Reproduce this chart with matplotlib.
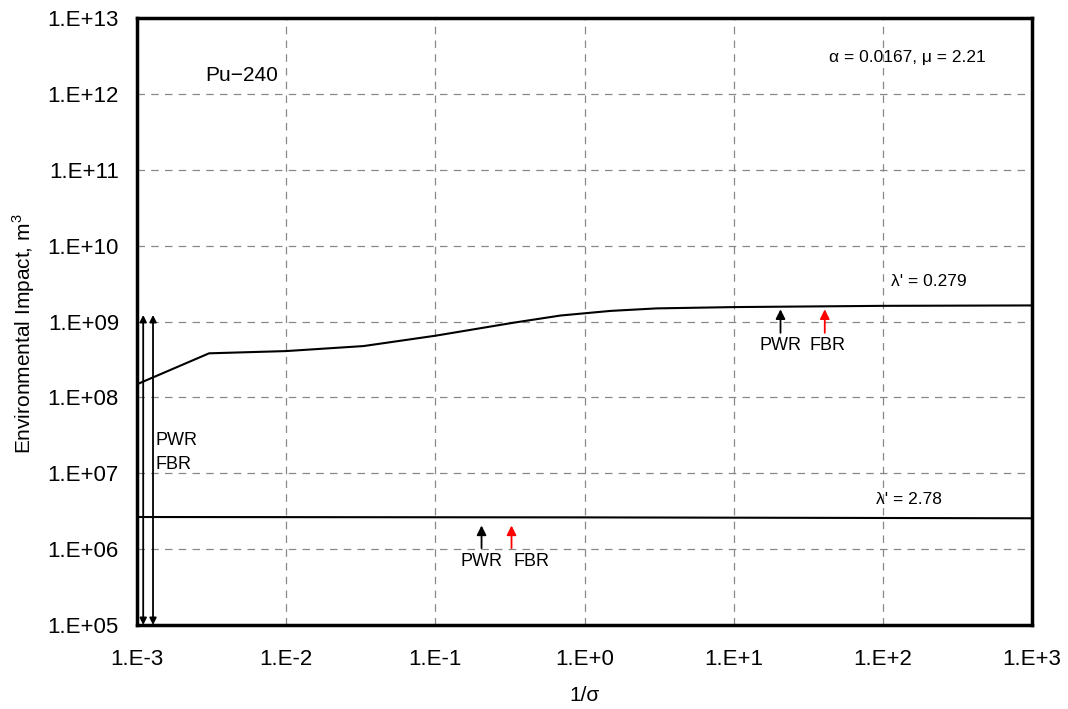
import numpy as np
import matplotlib.pyplot as plt
from matplotlib.ticker import FixedLocator, FixedFormatter, NullLocator

plt.rcParams['font.family'] = ['Liberation Sans', 'DejaVu Sans']
plt.rcParams['mathtext.fontset'] = 'custom'
plt.rcParams['mathtext.rm'] = 'Liberation Sans'

# curve for lambda' = 0.279
x_hi = [1e-3, 3.04e-3, 1e-2, 3.3e-2, 1e-1, 0.333, 0.69, 1.49, 3.04, 1e1, 1e2, 1e3]
y_hi = [1.49e8, 3.81e8, 4.08e8, 4.75e8, 6.5e8, 9.64e8, 1.2e9, 1.38e9, 1.49e9, 1.55e9, 1.61e9, 1.63e9]

# curve for lambda' = 2.78
x_lo = [1e-3, 1e0, 1e3]
y_lo = [2.65e6, 2.62e6, 2.55e6]

# marker arrows (x, y tail, y head)
arr_hi_pwr = (20.6, 7.1e8, 1.45e9)
arr_hi_fbr = (40.8, 7.1e8, 1.45e9)
arr_lo_pwr = (0.204, 1.03e6, 2.05e6)
arr_lo_fbr = (0.324, 1.03e6, 2.05e6)
left_arrows_x = [1.1e-3, 1.28e-3]
left_arrows_y = (1e5, 1.22e9)

xticks = [1e-3, 1e-2, 1e-1, 1e0, 1e1, 1e2, 1e3]
xlabels = ['1.E-3', '1.E-2', '1.E-1', '1.E+0', '1.E+1', '1.E+2', '1.E+3']
yticks = [10.0 ** k for k in range(5, 14)]
ylabels = ['1.E+%02d' % k for k in range(5, 14)]

fig = plt.figure(figsize=(10.68, 7.09), dpi=100)
ax = fig.add_axes([0.1283, 0.1185, 0.838, 0.856])

ax.plot(x_hi, y_hi, color='black', lw=1.5)
ax.plot(x_lo, y_lo, color='black', lw=1.5)

ax.set_xscale('log')
ax.set_yscale('log')
ax.set_xlim(1e-3, 1e3)
ax.set_ylim(1e5, 1e13)

ax.xaxis.set_major_locator(FixedLocator(xticks))
ax.xaxis.set_major_formatter(FixedFormatter(xlabels))
ax.xaxis.set_minor_locator(NullLocator())
ax.yaxis.set_major_locator(FixedLocator(yticks))
ax.yaxis.set_major_formatter(FixedFormatter(ylabels))
ax.yaxis.set_minor_locator(NullLocator())
ax.tick_params(axis='both', labelsize=16, length=0)
ax.tick_params(axis='x', pad=17)
ax.tick_params(axis='y', pad=13)

ax.grid(True, color='#888888', linestyle=(0, (6, 5)), linewidth=0.9)
for s in ax.spines.values():
    s.set_linewidth(2.5)

def up_arrow(x, y0, y1, c):
    ax.annotate('', xy=(x, y1), xytext=(x, y0),
                arrowprops=dict(arrowstyle='-|>', color=c, lw=1.3,
                                mutation_scale=14, shrinkA=0, shrinkB=0))

up_arrow(arr_hi_pwr[0], arr_hi_pwr[1], arr_hi_pwr[2], 'black')
up_arrow(arr_hi_fbr[0], arr_hi_fbr[1], arr_hi_fbr[2], 'red')
up_arrow(arr_lo_pwr[0], arr_lo_pwr[1], arr_lo_pwr[2], 'black')
up_arrow(arr_lo_fbr[0], arr_lo_fbr[1], arr_lo_fbr[2], 'red')

ax.text(arr_hi_pwr[0], 6.2e8, 'PWR', ha='center', va='top', fontsize=13)
ax.text(arr_hi_fbr[0] * 1.05, 6.2e8, 'FBR', ha='center', va='top', fontsize=13)
ax.text(arr_lo_pwr[0], 9.0e5, 'PWR', ha='center', va='top', fontsize=13)
ax.text(0.44, 9.0e5, 'FBR', ha='center', va='top', fontsize=13)

for xa in left_arrows_x:
    ax.annotate('', xy=(xa, left_arrows_y[1]), xytext=(xa, left_arrows_y[0]),
                arrowprops=dict(arrowstyle='<|-|>', color='black', lw=1.3,
                                mutation_scale=10, shrinkA=0, shrinkB=0))
ax.text(1.33e-3, 2.7e7, 'PWR', ha='left', va='center', fontsize=13)
ax.text(1.33e-3, 1.3e7, 'FBR', ha='left', va='center', fontsize=13)

ax.text(5.0e-3, 1.77e12, 'Pu\u2212240', ha='center', va='center', fontsize=15)
ax.text(147, 3.06e12, '\u03b1 = 0.0167, \u03bc = 2.21', ha='center', va='center', fontsize=12.5)
ax.text(113, 3.4e9, "\u03bb' = 0.279", ha='left', va='center', fontsize=12.5)
ax.text(90, 4.5e6, "\u03bb' = 2.78", ha='left', va='center', fontsize=12.5)

ax.set_xlabel('1/\u03c3', fontsize=15, labelpad=12)
ax.set_ylabel('Environmental Impact, m$^3$', fontsize=15)
ax.yaxis.set_label_coords(-0.112, 0.48)

fig.savefig('out.png', dpi=100)
